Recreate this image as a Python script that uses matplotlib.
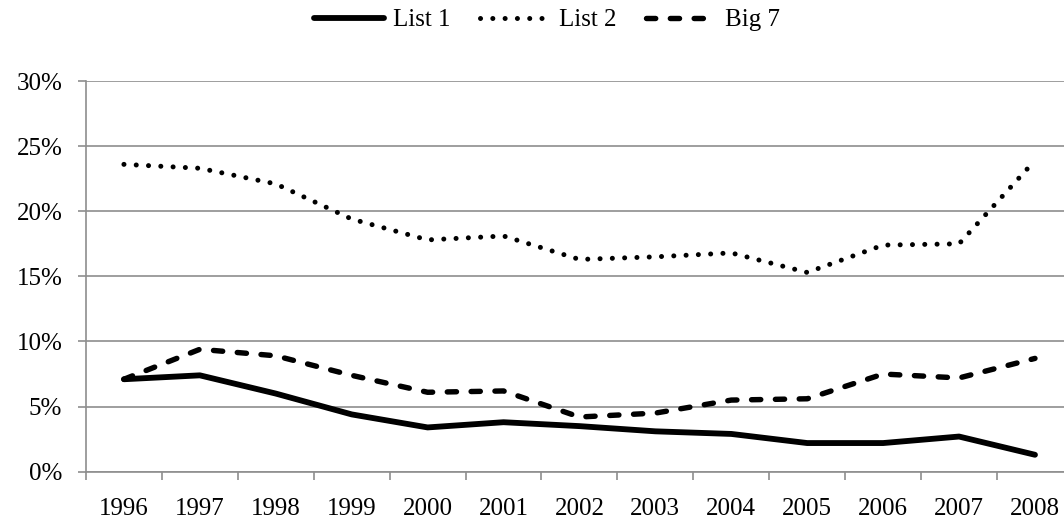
import numpy as np
import matplotlib
matplotlib.use("Agg")
import matplotlib.pyplot as plt
from matplotlib.ticker import PercentFormatter

# ── data (in %) ──────────────────────────────────────────────────────────────
years  = ["1996", "1997", "1998", "1999", "2000", "2001", "2002",
          "2003", "2004", "2005", "2006", "2007", "2008"]
list_1 = [7.1, 7.4, 6.0, 4.4, 3.4, 3.8, 3.5, 3.1, 2.9, 2.2, 2.2, 2.7, 1.3]
list_2 = [23.6, 23.3, 22.1, 19.4, 17.8, 18.1, 16.3, 16.5, 16.8, 15.3, 17.4, 17.5, 23.9]
big_7  = [7.1, 9.4, 8.9, 7.4, 6.1, 6.2, 4.2, 4.5, 5.5, 5.6, 7.5, 7.2, 8.7]

GRID_GREY = "#8e8e8e"
FS = 18

plt.rcParams["font.family"] = ["Liberation Serif", "DejaVu Serif"]

fig = plt.figure(figsize=(10.64, 5.24), dpi=100)
ax = fig.add_axes([0.0808, 0.0998, 0.9276, 0.7456])

x = np.arange(len(years))
ax.plot(x, list_1, color="black", linewidth=4.2, solid_capstyle="round",
        solid_joinstyle="round", label="List 1")
ax.plot(x, list_2, color="black", linewidth=3.6, linestyle=(0, (0.01, 2.45)),
        dash_capstyle="round", label="List 2")
ax.plot(x, big_7, color="black", linewidth=3.9, linestyle=(0, (1.7, 2.7)),
        dash_capstyle="round", dash_joinstyle="round", label="Big 7")

ax.set_xlim(-0.5, len(years) - 0.5)
ax.set_ylim(0, 30)
ax.set_yticks(np.arange(0, 31, 5))
ax.yaxis.set_major_formatter(PercentFormatter(decimals=0))
ax.set_xticks(x)
ax.set_xticklabels(years)
ax.set_xticks(np.arange(-0.5, len(years), 1), minor=True)

ax.grid(axis="y", color=GRID_GREY, linewidth=1.2)
ax.set_axisbelow(True)
for side in ("top", "right"):
    ax.spines[side].set_visible(False)
for side in ("left", "bottom"):
    ax.spines[side].set_color(GRID_GREY)
    ax.spines[side].set_linewidth(1.2)

ax.tick_params(axis="x", which="major", length=0, pad=19, labelsize=FS)
ax.tick_params(axis="x", which="minor", length=6, width=1.2, color=GRID_GREY)
ax.tick_params(axis="y", length=6, width=1.2, color=GRID_GREY, pad=11, labelsize=FS)

leg = ax.legend(loc="center", ncol=3, frameon=False, fontsize=FS, handlelength=2.8,
                handletextpad=0.35, columnspacing=1.2)
leg.set_bbox_to_anchor((547 / 1064, 1 - 20 / 524), transform=fig.transFigure)

fig.savefig("out.png", dpi=100)
